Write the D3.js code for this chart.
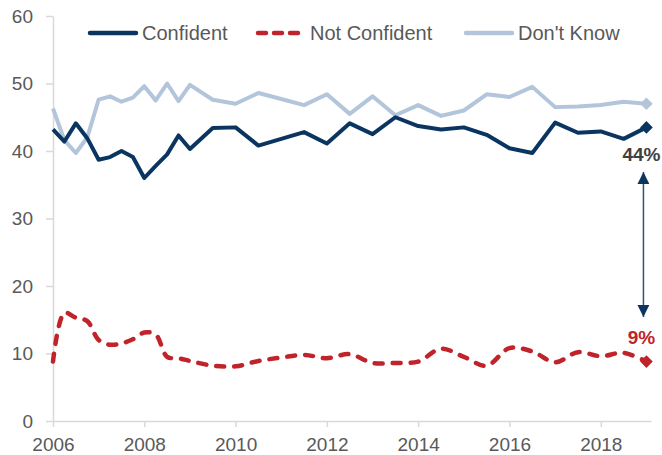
<!DOCTYPE html>
<html>
<head>
<meta charset="utf-8">
<script src="https://cdn.jsdelivr.net/npm/d3@7/dist/d3.min.js"></script>
<style>
body{margin:0;background:#fff;}
text{font-family:"Liberation Sans",Arial,sans-serif;}
</style>
</head>
<body>
<div id="chart"></div>
<script>
// survey dates (quarterly to 2009, then every half year)
var years = [2006,2006.25,2006.5,2006.75,2007,2007.25,2007.5,2007.75,2008,2008.25,2008.5,2008.75,
	2009,2009.5,2010,2010.5,2011,2011.5,2012,2012.5,2013,2013.5,2014,2014.5,2015,2015.5,
	2016,2016.5,2017,2017.5,2018,2018.5,2019];
var confident = [43.2,41.4,44.1,41.9,38.7,39.1,40.0,39.1,36.0,37.8,39.5,42.3,
	40.3,43.4,43.5,40.8,41.8,42.8,41.1,44.1,42.5,45.0,43.7,43.2,43.5,42.4,
	40.4,39.7,44.2,42.7,42.9,41.8,43.5];
var notConfident = [8.8,16.0,15.3,14.8,12.0,11.3,11.5,12.1,13.1,12.8,9.5,9.3,
	8.9,8.2,8.1,8.9,9.4,9.8,9.3,9.9,8.6,8.6,8.8,10.7,9.5,8.2,
	10.8,10.3,8.7,10.2,9.6,10.1,8.8];
var dontKnow = [46.3,41.6,39.7,42.0,47.6,48.1,47.3,47.9,49.6,47.5,50.0,47.4,
	49.8,47.6,47.0,48.6,47.7,46.8,48.4,45.5,48.1,45.3,46.8,45.2,46.0,48.4,
	48.0,49.5,46.5,46.6,46.8,47.3,47.0];
var seriesNames = ["Confident","Not Confident","Don't Know"];
var xTicks = [2006,2008,2010,2012,2014,2016,2018];
var yTicks = [0,10,20,30,40,50,60];
var endLabels = ["44%","9%"];

var width = 662, height = 455;
var navy = "#0b3561", red = "#c1232b", light = "#b3c5da", axisGray = "#d9d9d9", textGray = "#595959";

var svg = d3.select("#chart").append("svg")
	.attr("width", width)
	.attr("height", height);

var x = d3.scaleLinear().domain([2006, 2019.1]).range([53, 651]);
var y = d3.scaleLinear().domain([0, 60]).range([421, 16]);

// axes
var yAxis = svg.append("g")
	.attr("transform", "translate(53,0)")
	.call(d3.axisLeft(y).tickValues(yTicks).tickSize(7).tickPadding(13).tickSizeOuter(0));
var xAxis = svg.append("g")
	.attr("transform", "translate(0,421)")
	.call(d3.axisBottom(x).tickValues(xTicks).tickFormat(d3.format("d")).tickSize(6).tickPadding(11).tickSizeOuter(0));

[yAxis, xAxis].forEach(function(ax) {
	ax.select(".domain").attr("stroke", axisGray).attr("stroke-width", 1.5);
	ax.selectAll(".tick line").attr("stroke", axisGray).attr("stroke-width", 1.5);
	ax.selectAll(".tick text")
		.attr("fill", textGray)
		.style("font-size", "19px")
		.style("font-family", "'Liberation Sans',Arial,sans-serif");
});

function rows(vals) {
	return years.map(function(yr, i) { return {x: yr, y: vals[i]}; });
}

var straight = d3.line().x(function(d) { return x(d.x); }).y(function(d) { return y(d.y); });
var smooth = d3.line().x(function(d) { return x(d.x); }).y(function(d) { return y(d.y); })
	.curve(d3.curveCatmullRom.alpha(0.5));

svg.append("path")
	.datum(rows(dontKnow))
	.attr("fill", "none")
	.attr("stroke", light)
	.attr("stroke-width", 4)
	.attr("stroke-linejoin", "round")
	.attr("d", straight);

svg.append("path")
	.datum(rows(confident))
	.attr("fill", "none")
	.attr("stroke", navy)
	.attr("stroke-width", 4)
	.attr("stroke-linejoin", "round")
	.attr("d", straight);

svg.append("path")
	.datum(rows(notConfident))
	.attr("fill", "none")
	.attr("stroke", red)
	.attr("stroke-width", 4.5)
	.attr("stroke-dasharray", "8,10")
	.attr("stroke-linecap", "round")
	.attr("d", smooth);

// end diamonds
var last = years.length - 1;
var diamond = d3.symbol().type(d3.symbolSquare).size(80);
[[dontKnow, light], [confident, navy], [notConfident, red]].forEach(function(s) {
	svg.append("path")
		.attr("d", diamond)
		.attr("fill", s[1])
		.attr("transform", "translate(" + x(years[last]) + "," + y(s[0][last]) + ") rotate(45)");
});

// end labels
svg.append("text")
	.attr("x", x(years[last]) - 5)
	.attr("y", y(confident[last]) + 34)
	.attr("text-anchor", "middle")
	.attr("fill", "#404040")
	.style("font-size", "19px")
	.style("font-weight", "bold")
	.text(endLabels[0]);
svg.append("text")
	.attr("x", x(years[last]) - 5)
	.attr("y", y(notConfident[last]) - 18)
	.attr("text-anchor", "middle")
	.attr("fill", red)
	.style("font-size", "19px")
	.style("font-weight", "bold")
	.text(endLabels[1]);

// double arrow between the two
var defs = svg.append("defs");
defs.append("marker")
	.attr("id", "head")
	.attr("viewBox", "0 -5 10 10")
	.attr("refX", 10)
	.attr("refY", 0)
	.attr("orient", "auto-start-reverse")
	.attr("markerUnits", "userSpaceOnUse")
	.attr("markerWidth", 12)
	.attr("markerHeight", 12)
	.append("path")
	.attr("d", "M0,-5L10,0L0,5Z")
	.attr("fill", navy);

var ax = x(years[last]) - 3;
svg.append("line")
	.attr("x1", ax).attr("x2", ax)
	.attr("y1", 172).attr("y2", 317)
	.attr("stroke", "#2f5479")
	.attr("stroke-width", 1.5)
	.attr("marker-start", "url(#head)")
	.attr("marker-end", "url(#head)");

// legend
var legendItems = [
	{name: seriesNames[0], color: navy, dash: null, x0: 88},
	{name: seriesNames[1], color: red, dash: "8,8", x0: 256},
	{name: seriesNames[2], color: light, dash: null, x0: 464}
];
var legend = svg.append("g").attr("class", "legend");
legendItems.forEach(function(it) {
	legend.append("line")
		.attr("x1", it.x0 + 2).attr("x2", it.x0 + 48)
		.attr("y1", 33).attr("y2", 33)
		.attr("stroke", it.color)
		.attr("stroke-width", 4.5)
		.attr("stroke-linecap", "round")
		.attr("stroke-dasharray", it.dash);
	legend.append("text")
		.attr("x", it.x0 + 54)
		.attr("y", 40)
		.attr("fill", textGray)
		.style("font-size", "20px")
		.text(it.name);
});
</script>
</body>
</html>
